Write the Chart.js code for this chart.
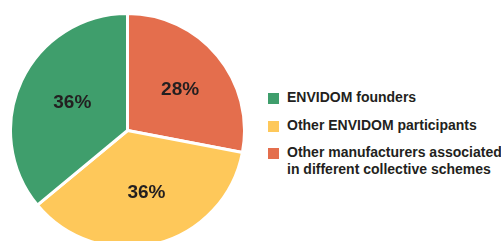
<!DOCTYPE html>
<html>
<head>
<meta charset="utf-8">
<script src="https://cdn.jsdelivr.net/npm/chart.js@4"></script>
<style>
    html, body { margin: 0; padding: 0; background: #fff; overflow: hidden; }
    body { width: 501px; height: 241px; position: relative; }
    #pieBox { position: absolute; left: 9px; top: 12px; width: 237px; height: 237px; }
    #legend { position: absolute; left: 268px; top: 89px; font-family: 'Liberation Sans', Arial, sans-serif;
              font-weight: bold; font-size: 14px; color: #231f20; white-space: nowrap; }
    .row { position: relative; padding-left: 19px; line-height: 17px; margin-bottom: 10.5px; }
    .sq { position: absolute; left: 0; top: 4px; width: 11px; height: 11px; }
</style>
</head>
<body>
<div id="pieBox"><canvas id="shareChart"></canvas></div>
<div id="legend"></div>
<script>
// clockwise from 12 o'clock
const labels = ['Other manufacturers associated\nin different collective schemes', 'Other ENVIDOM participants', 'ENVIDOM founders'];
const shares = [28, 36, 36];
const colors = ['#e46e4d', '#fec85a', '#3f9e6c'];

document.addEventListener('DOMContentLoaded', function() {
    buildLegend();
    initShareChart();
});

function buildLegend() {
    const box = document.getElementById('legend');
    // legend runs in the opposite order to the slices
    for (let i = labels.length - 1; i >= 0; i--) {
        const row = document.createElement('div');
        row.className = 'row';
        const sq = document.createElement('span');
        sq.className = 'sq';
        sq.style.background = colors[i];
        row.appendChild(sq);
        labels[i].split('\n').forEach(function(line, k) {
            if (k > 0) row.appendChild(document.createElement('br'));
            row.appendChild(document.createTextNode(line));
        });
        box.appendChild(row);
    }
}

const sliceLabels = {
    id: 'sliceLabels',
    afterDatasetsDraw(chart) {
        const ctx = chart.ctx;
        const meta = chart.getDatasetMeta(0);
        ctx.save();
        ctx.font = 'bold 19px "Liberation Sans", Arial, sans-serif';
        ctx.fillStyle = '#231f20';
        ctx.textAlign = 'center';
        ctx.textBaseline = 'middle';
        meta.data.forEach(function(arc, i) {
            const p = arc.getProps(['x', 'y', 'startAngle', 'endAngle', 'outerRadius']);
            const mid = (p.startAngle + p.endAngle) / 2;
            const r = p.outerRadius * 0.55;
            ctx.fillText(shares[i] + '%', p.x + Math.cos(mid) * r + 3, p.y + Math.sin(mid) * r);
        });
        ctx.restore();
    }
};

function initShareChart() {
    const ctx = document.getElementById('shareChart');
    if (!ctx) return;

    new Chart(ctx, {
        type: 'pie',
        data: {
            labels: labels,
            datasets: [{
                data: shares,
                backgroundColor: colors,
                borderColor: '#ffffff',
                borderWidth: 3
            }]
        },
        options: {
            responsive: true,
            maintainAspectRatio: false,
            animation: false,
            plugins: {
                legend: { display: false },
                tooltip: { enabled: false }
            }
        },
        plugins: [sliceLabels]
    });
}
</script>
</body>
</html>
